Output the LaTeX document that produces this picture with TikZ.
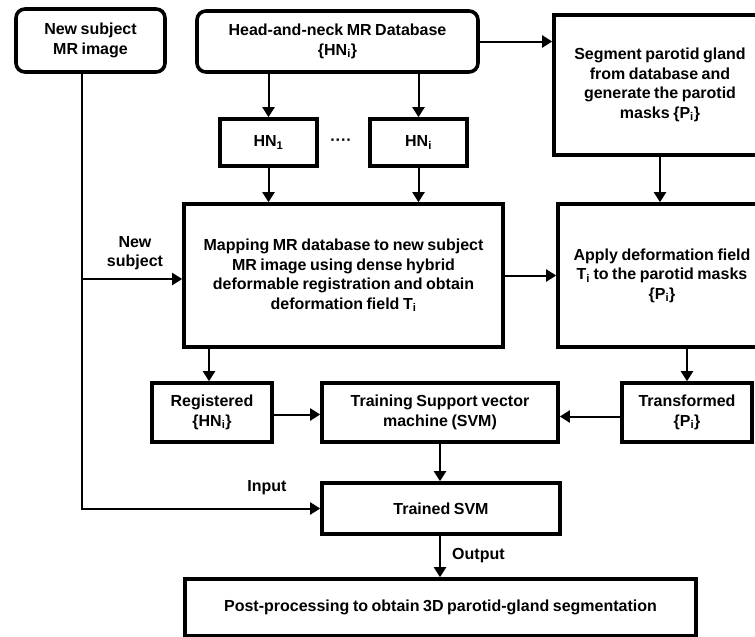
\documentclass[tikz,border=0pt]{standalone}
\usepackage{fontspec}
\setmainfont{Liberation Sans}
\usetikzlibrary{arrows.meta}
\newcommand{\diagfont}{\fontsize{16}{19.5}\selectfont\bfseries\spaceskip=0.22em plus 0.05em minus 0.05em\relax}
\tikzset{
  box/.style={draw, line width=3.6pt, fill=white, align=center, inner sep=2pt,
    font=\diagfont},
  rbox/.style={box, rounded corners=9pt},
  conn/.style={line width=2pt, -{Triangle[length=10pt,width=12pt]}},
  line/.style={line width=2pt},
  lbl/.style={font=\diagfont, align=center, inner sep=0pt}
}
\newcommand{\sbs}[1]{\textsubscript{#1}}
\begin{document}
\begin{tikzpicture}[x=1pt,y=-1pt]
\useasboundingbox (0,0) rectangle (755,637);
\clip (0,0) rectangle (755,637);
\node[rbox, minimum width=149pt, minimum height=63pt] (new) at (90.5,40.5) {New subject\\MR image};
\node[rbox, minimum width=281pt, minimum height=61pt] (db) at (337.5,41.5) {Head-and-neck MR Database\\\{HN\sbs{i}\}};
\node[box, minimum width=212pt, minimum height=140pt] (seg) at (660,85) {Segment parotid gland\\from database and\\generate the parotid\\masks \{P\sbs{i}\}};
\node[box, minimum width=97pt, minimum height=47pt] (hn1) at (268.5,142.5) {HN\sbs{1}};
\node[box, minimum width=97pt, minimum height=47pt] (hni) at (418.5,142.5) {HN\sbs{i}};
\node[lbl] (dots) at (341,142) {····};
\node[box, minimum width=319pt, minimum height=143pt] (map) at (343.5,275.5) {Mapping MR database to new subject\\MR image using dense hybrid\\deformable registration and obtain\\deformation field T\sbs{i}};
\node[box, minimum width=208pt, minimum height=143pt] (apply) at (662,275.5) {Apply deformation field\\T\sbs{i} to the parotid masks\\\{P\sbs{i}\}};
\node[box, minimum width=120pt, minimum height=59pt] (reg) at (212,412.5) {Registered\\\{HN\sbs{i}\}};
\node[box, minimum width=236pt, minimum height=59pt] (train) at (440,412.5) {Training Support vector\\machine (SVM)};
\node[box, minimum width=130pt, minimum height=59pt] (trans) at (687,412.5) {Transformed\\\{P\sbs{i}\}};
\node[box, minimum width=238pt, minimum height=51pt] (trained) at (441,508.5) {Trained SVM};
\node[box, minimum width=511pt, minimum height=57pt] (post) at (440.5,607.5) {Post-processing to obtain 3D parotid-gland segmentation};

\coordinate (j) at (82,279);
\draw[line] (new.south -| j) -- (j);
\draw[conn] (j) |- (trained.west);
\draw[conn] (j) -- (j -| map.west);
\node[lbl] (lnew) at (135,253) {New\\subject};
\node[lbl] (linput) at (267,488) {Input};

\draw[conn] (hn1.north |- db.south) -- (hn1.north);
\draw[conn] (hni.north |- db.south) -- (hni.north);
\draw[conn] (db.east) -- (db.east -| seg.west);
\draw[conn] (hn1.south) -- (hn1.south |- map.north);
\draw[conn] (hni.south) -- (hni.south |- map.north);
\draw[conn] (seg.south) -- (seg.south |- apply.north);
\draw[conn] (map.east) -- (map.east -| apply.west);
\draw[conn] ([xshift=-3pt]reg.north |- map.south) -- ([xshift=-3pt]reg.north);
\draw[conn] (trans.north |- apply.south) -- (trans.north);
\draw[conn] ([yshift=-2pt]reg.east) -- ([yshift=-2pt]reg.east -| train.west);
\draw[conn] ([yshift=-4pt]trans.west) -- ([yshift=-4pt]trans.west -| train.east);
\draw[conn] (train.south) -- (train.south |- trained.north);
\draw[conn] (train.south |- trained.south) -- (train.south |- post.north);
\node[lbl, anchor=west] (lout) at (452,556) {Output};
\end{tikzpicture}
\end{document}
